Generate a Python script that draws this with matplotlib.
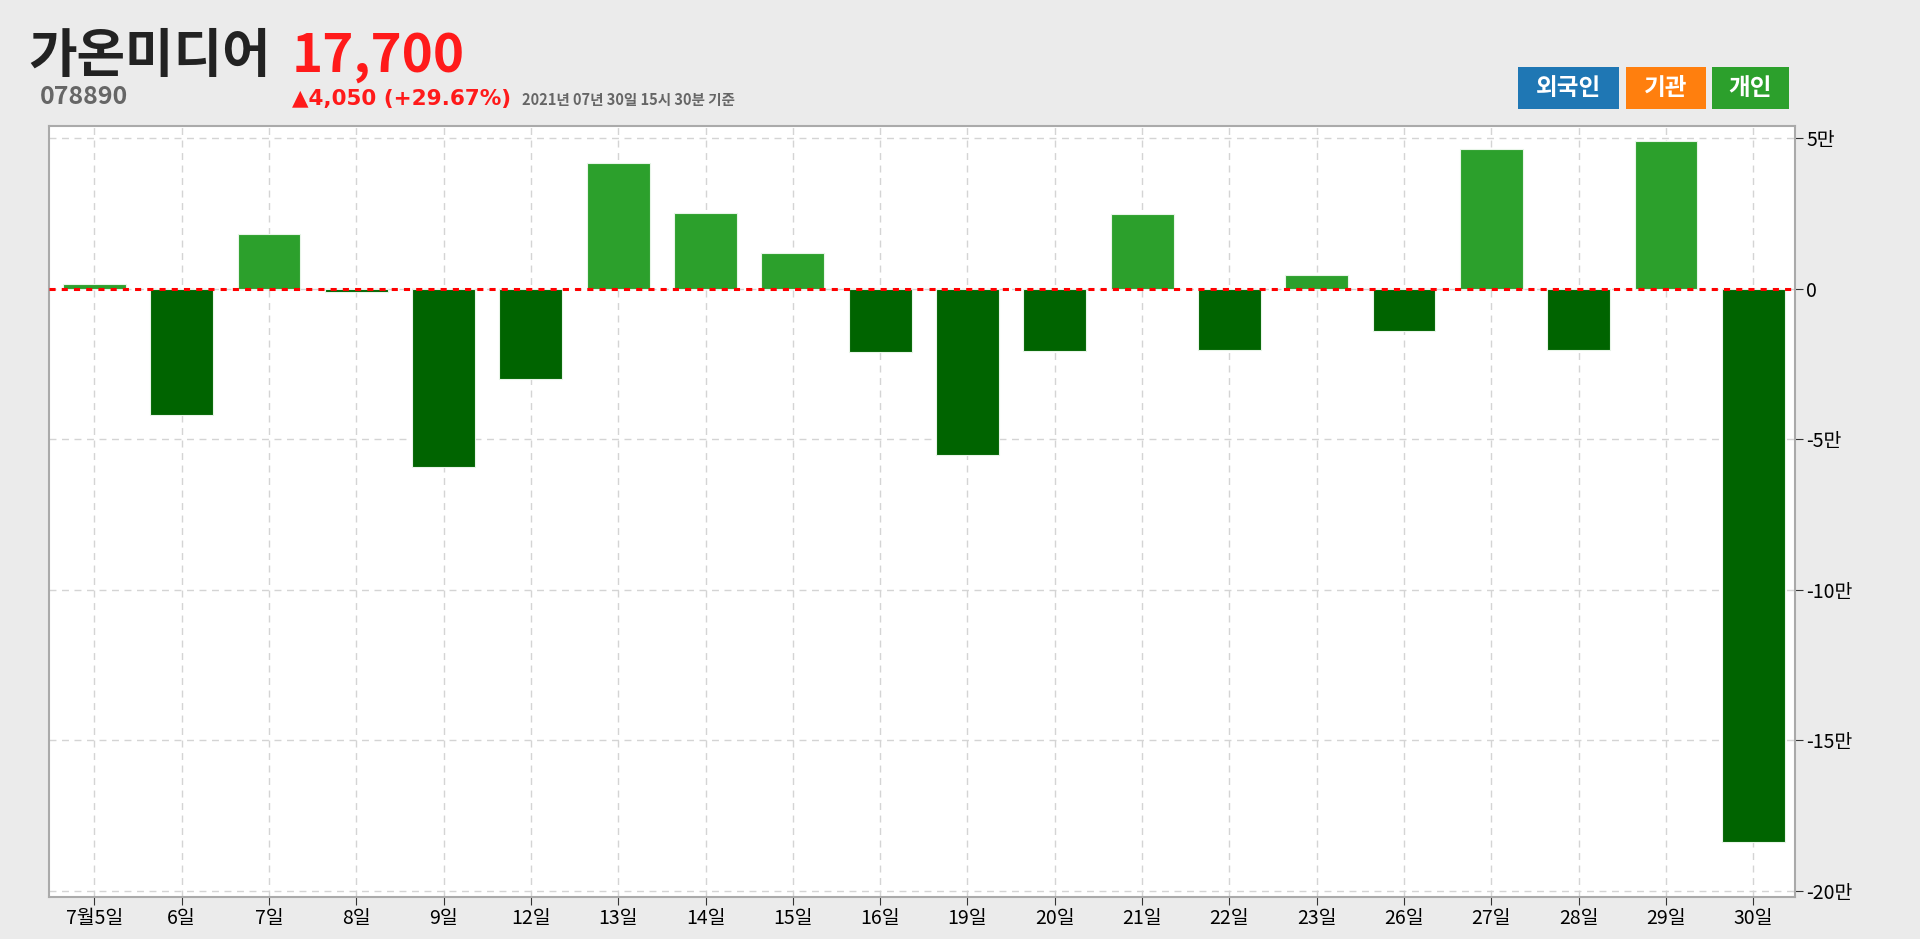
import matplotlib
matplotlib.use("Agg")
import matplotlib.pyplot as plt
from matplotlib.patches import Rectangle
import numpy as np

plt.rcParams['font.family'] = ['Noto Sans CJK KR', 'DejaVu Sans']

days = ["7월5일", "6일", "7일", "8일", "9일", "12일", "13일", "14일", "15일", "16일",
        "19일", "20일", "21일", "22일", "23일", "26일", "27일", "28일", "29일", "30일"]
# 개인 순매수 (주)
individual = [1600, -41900, 18300, -1000, -59300, -30100, 41900, 25200, 11800, -21100,
              -55300, -20700, 24800, -20300, 4500, -14200, 46300, -20300, 49200, -183700]
yticks = [50000, 0, -50000, -100000, -150000, -200000]
yticklabels = ["5만", "0", "-5만", "-10만", "-15만", "-20만"]

bg = "#ebebeb"
fig = plt.figure(figsize=(19.2, 9.39), dpi=100, facecolor=bg)
ax = fig.add_axes([0.0255, 0.045, 0.9095, 0.821])

x = np.arange(len(days))
colors = ["#2ca02c" if v >= 0 else "#006400" for v in individual]
ax.bar(x, individual, width=0.72, color=colors, edgecolor="#e8f5e8", linewidth=0.8, zorder=2)
ax.axhline(0, color="red", linestyle=(0, (2, 2)), linewidth=2.2, zorder=3)

ax.set_xlim(-0.52, len(days) - 0.52)
ax.set_ylim(-202000, 54100)
ax.set_xticks(x)
ax.set_xticklabels(days, fontsize=14)
ax.set_yticks(yticks)
ax.set_yticklabels(yticklabels, fontsize=14)
ax.yaxis.tick_right()
ax.tick_params(axis="both", direction="out", length=6, color="#333333", pad=2)
ax.grid(True, linestyle=(0, (5, 4)), color="#d4d4d4", linewidth=1, zorder=0)
for s in ax.spines.values():
    s.set_color("#aaaaaa")
    s.set_linewidth(1.5)

# header
fig.text(0.015, 0.94, "가온미디어", fontsize=38, fontweight="bold", color="#222222", va="center")
fig.text(0.152, 0.94, "17,700", fontsize=38, fontweight="bold", color="#ff1a1a", va="center")
fig.text(0.021, 0.897, "078890", fontsize=18, fontweight="bold", color="#666666", va="center")
fig.text(0.152, 0.895, "▲4,050 (+29.67%)", fontsize=15.5, fontweight="bold", color="#ff1a1a",
         va="center", family=["DejaVu Sans", "Noto Sans CJK KR"])
fig.text(0.272, 0.894, "2021년 07년 30일 15시 30분 기준", fontsize=10.5, fontweight="bold",
         color="#666666", va="center")

# legend boxes
for label, c, x0, w in [("외국인", "#1f77b4", 0.7908, 0.0523), ("기관", "#ff7f0e", 0.8469, 0.0415),
                        ("개인", "#2ca02c", 0.8916, 0.0402)]:
    fig.patches.append(Rectangle((x0, 0.884), w, 0.0443, transform=fig.transFigure,
                                 facecolor=c, edgecolor="none"))
    fig.text(x0 + w / 2, 0.906, label, fontsize=17, fontweight="bold", color="white",
             ha="center", va="center")

fig.savefig("out.png", dpi=100, facecolor=bg)
